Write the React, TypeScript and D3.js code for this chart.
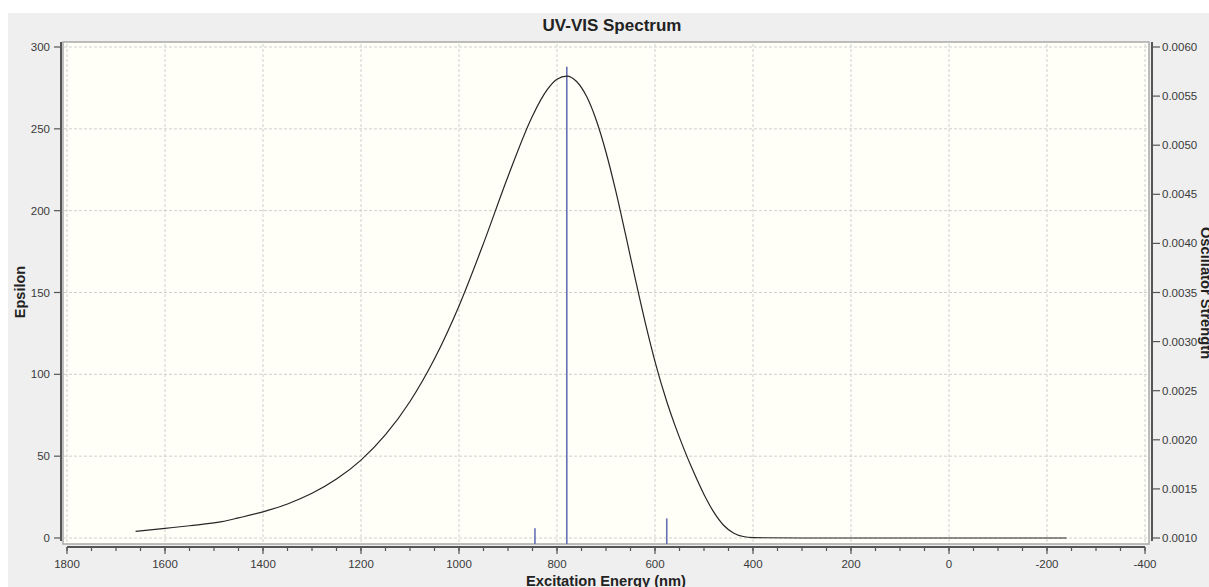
import React from "react";
import * as d3 from "d3";

// Broadened absorption curve (wavelength in nm, epsilon)
const wavelengths = [1660, 1600, 1550, 1484, 1450, 1400, 1350, 1300, 1250, 1200, 1150, 1100, 1050, 1000, 950, 900, 850, 820, 800, 780, 760, 740, 720, 700, 680, 660, 640, 620, 600, 576, 560, 540, 520, 500, 480, 460, 440, 420, 400, 300, 200, 100, 0, -100, -240];
const epsilon = [4.0, 5.9, 7.5, 10.0, 12.3, 16.0, 20.8, 27.3, 36.0, 47.6, 63.1, 83.4, 109.5, 141.8, 180.0, 220.9, 257.9, 273.9, 280.3, 282.2, 278.9, 270.0, 255.4, 235.7, 211.9, 185.3, 158.0, 131.7, 107.8, 83.4, 69.4, 53.7, 39.5, 26.6, 15.8, 7.8, 3.1, 0.9, 0.2, 0, 0, 0, 0, 0, 0];

// Individual transitions (stick spectrum)
const stickNm = [845, 780, 576];
const stickStrength = [0.0011, 0.0058, 0.0012];

// Axis ticks
const xMajorTicks = [1800, 1600, 1400, 1200, 1000, 800, 600, 400, 200, 0, -200, -400];
const xMinorTicks = d3.range(1800, -401, -50);
const epsTicks = [0, 50, 100, 150, 200, 250, 300];
const oscTicks = [0.001, 0.0015, 0.002, 0.0025, 0.003, 0.0035, 0.004, 0.0045, 0.005, 0.0055, 0.006];

const W = 1209;
const H = 587;
const frame = { left: 63, top: 42, right: 1149, bottom: 544 };
const FONT = "'Liberation Sans', Arial, sans-serif";

export default function App() {
  const x = d3.scaleLinear().domain([1800, -400]).range([67, 1145]);
  const yEps = d3.scaleLinear().domain([0, 300]).range([538, 47]);
  const yOsc = d3.scaleLinear().domain([0.001, 0.006]).range([538, 47]);

  const points = wavelengths.map((w, i) => [w, epsilon[i]] as [number, number]);
  const line = d3
    .line<[number, number]>()
    .x((d) => x(d[0]))
    .y((d) => yEps(d[1]))
    .curve(d3.curveMonotoneX);

  const gridColor = "#cfcfcf";
  const axisColor = "#555";
  const labelColor = "#3a3a3a";

  return (
    <svg
      width={W}
      height={H}
      style={{ position: "absolute", left: 0, top: 0, display: "block" }}
      fontFamily={FONT}
    >
      <defs>
        <clipPath id="plotClip">
          <rect x={frame.left} y={frame.top} width={frame.right - frame.left} height={frame.bottom - frame.top} />
        </clipPath>
      </defs>
      <rect x={0} y={0} width={W} height={H} fill="#ffffff" />
      <rect x={8} y={13} width={W - 8} height={H - 13} fill="#efefef" />

      {/* plot area */}
      <rect
        x={frame.left}
        y={frame.top}
        width={frame.right - frame.left}
        height={frame.bottom - frame.top}
        fill="#fffff7"
        stroke="#a9a9a9"
        strokeWidth={1.5}
      />

      {/* grid */}
      <g stroke={gridColor} strokeWidth={1} strokeDasharray="3,2">
        {xMajorTicks.map((t) => (
          <line key={"gx" + t} x1={x(t)} x2={x(t)} y1={frame.top + 2} y2={frame.bottom - 1} />
        ))}
        {epsTicks.map((t) => (
          <line key={"gy" + t} x1={frame.left + 1} x2={frame.right - 1} y1={yEps(t)} y2={yEps(t)} />
        ))}
      </g>

      {/* spectrum */}
      <g clipPath="url(#plotClip)">
        {stickNm.map((w, i) => (
          <line
            key={"s" + w}
            x1={x(w)}
            x2={x(w)}
            y1={yOsc(0)}
            y2={yOsc(stickStrength[i])}
            stroke="#6670b4"
            strokeWidth={1.6}
          />
        ))}
        <path d={line(points) || ""} fill="none" stroke="#262626" strokeWidth={1.2} />
      </g>

      {/* left axis */}
      <line x1={61} x2={61} y1={frame.top} y2={541} stroke={axisColor} strokeWidth={2} />
      {epsTicks.map((t) => (
        <g key={"ly" + t}>
          <line x1={54} x2={61} y1={yEps(t)} y2={yEps(t)} stroke={axisColor} strokeWidth={1.2} />
          <text x={50} y={yEps(t) + 4} textAnchor="end" fontSize={11.5} fill={labelColor}>
            {t}
          </text>
        </g>
      ))}

      {/* right axis */}
      <line x1={1152} x2={1152} y1={frame.top} y2={541} stroke={axisColor} strokeWidth={2} />
      {oscTicks.map((t) => (
        <g key={"ry" + t}>
          <line x1={1152} x2={1160} y1={yOsc(t)} y2={yOsc(t)} stroke={axisColor} strokeWidth={1.2} />
          <text x={1162} y={yOsc(t) + 4} textAnchor="start" fontSize={11.5} fill={labelColor}>
            {d3.format(".4f")(t)}
          </text>
        </g>
      ))}

      {/* bottom axis */}
      <line x1={x(1800)} x2={x(-400)} y1={547} y2={547} stroke={axisColor} strokeWidth={2} />
      {xMinorTicks.map((t) => (
        <line key={"mx" + t} x1={x(t)} x2={x(t)} y1={547} y2={551} stroke={axisColor} strokeWidth={1.2} />
      ))}
      {xMajorTicks.map((t) => (
        <g key={"bx" + t}>
          <line x1={x(t)} x2={x(t)} y1={547} y2={554} stroke={axisColor} strokeWidth={1.2} />
          <text x={x(t)} y={568} textAnchor="middle" fontSize={11.5} fill={labelColor}>
            {t}
          </text>
        </g>
      ))}

      {/* titles */}
      <text x={612} y={31} textAnchor="middle" fontSize={17} fontWeight="bold" fill="#222">
        UV-VIS Spectrum
      </text>
      <text
        transform="translate(25,292) rotate(-90)"
        textAnchor="middle"
        fontSize={14.5}
        fontWeight="bold"
        fill="#222"
      >
        Epsilon
      </text>
      <text x={606} y={586} textAnchor="middle" fontSize={14.7} fontWeight="bold" fill="#222">
        Excitation Energy (nm)
      </text>
      <text
        transform="translate(1201,293) rotate(90)"
        textAnchor="middle"
        fontSize={14.7}
        fontWeight="bold"
        fill="#222"
      >
        Oscillator Strength
      </text>
    </svg>
  );
}
